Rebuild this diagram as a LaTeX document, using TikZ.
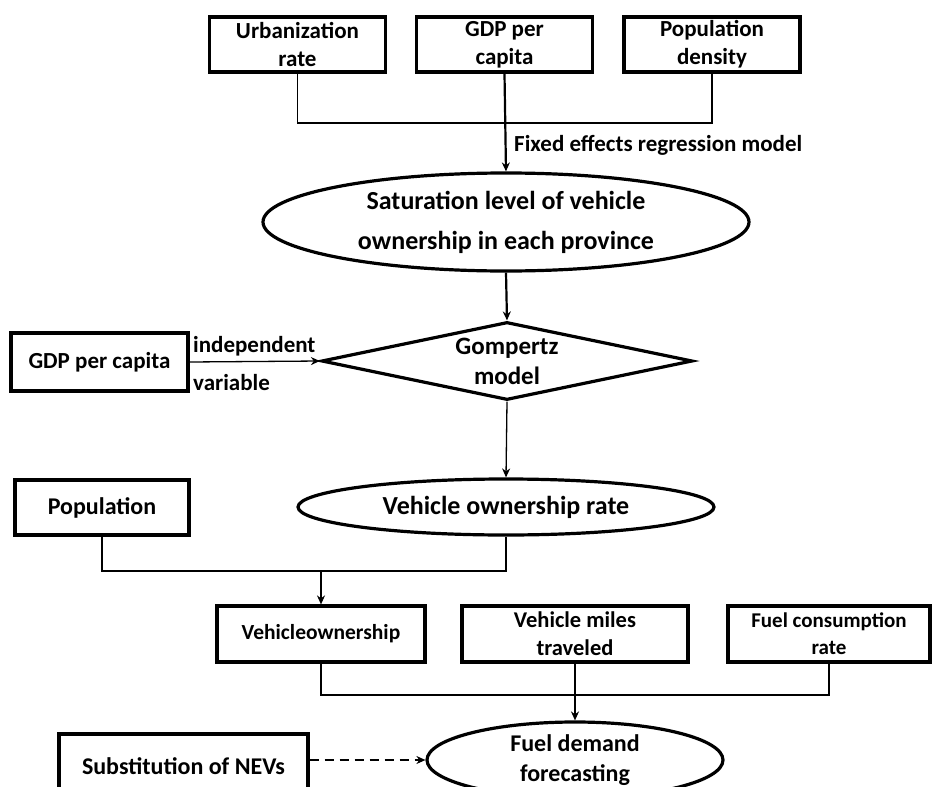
\documentclass[tikz,border=0pt]{standalone}
\usepackage{fontspec}
\setmainfont{Carlito}
\usetikzlibrary{shapes.geometric,arrows.meta}
\begin{document}
\begin{tikzpicture}[x=1pt,y=-1pt,
  txt/.style={font=\bfseries\fontsize{23}{28}\selectfont},
  box/.style={draw,line width=3.2pt,inner sep=0pt,align=center,txt},
  oval/.style={draw,ellipse,line width=3.2pt,inner sep=0pt,align=center,txt},
  conn/.style={line width=1.4pt},
  arr/.style={line width=1.6pt,-{Stealth[length=9pt,width=8pt]}},
  lbl/.style={inner sep=0pt,anchor=west,txt}]
\useasboundingbox (0,0) rectangle (932,787);
\clip (0,0) rectangle (932,787);

% top row
\node[box,minimum width=176pt,minimum height=55pt] (urb) at (297.5,44.5) {Urbanization\\rate};
\node[box,minimum width=176pt,minimum height=55pt] (gdpa) at (504.5,44.5) {GDP per\\capita};
\node[box,minimum width=176pt,minimum height=55pt] (popd) at (712,44.5) {Population\\density};

\node[oval,minimum width=486pt,minimum height=98pt,font=\bfseries\fontsize{26}{40}\selectfont] (sat) at (506,222) {Saturation level of vehicle\\ownership in each province};

\coordinate (j1) at (504.5,123);
\draw[conn] (urb.south) |- (j1) -| (popd.south);
\draw[arr,line width=2.2pt] (gdpa.south) -- (sat.north);
\node[lbl] (fe) at (514,145) {Fixed effects regression model};

% Gompertz
\node[draw,diamond,line width=3.2pt,inner sep=0pt,aspect=4.76,minimum width=371pt,minimum height=78pt,align=center,font=\bfseries\fontsize{25}{30}\selectfont] (gomp) at (507,361) {Gompertz\\model};
\draw[arr,line width=2.2pt] (sat.south) -- (gomp.north);

\node[box,minimum width=177pt,minimum height=58pt] (gdpb) at (99.5,362) {GDP per capita};
\draw[arr,line width=1.3pt] (gdpb.east) -- (gomp.west);
\node[lbl] (iv1) at (193,346) {independent};
\node[lbl] (iv2) at (193,383) {variable};

% Vehicle ownership rate
\node[oval,minimum width=416pt,minimum height=56pt,font=\bfseries\fontsize{26}{28}\selectfont] (vor) at (506,507) {Vehicle ownership rate};
\draw[arr,line width=1.3pt] (gomp.south) -- (vor.north);

\node[box,minimum width=174pt,minimum height=55pt,font=\bfseries\fontsize{24}{28}\selectfont] (popn) at (102,507.5) {Population};

\coordinate (j2) at (321,571);
\draw[conn,line width=2pt] (popn.south) |- (j2) -| (vor.south);

% third row
\node[box,minimum width=208pt,minimum height=56pt,font=\bfseries\fontsize{21.5}{26}\selectfont] (vown) at (321,634) {Vehicleownership};
\node[box,minimum width=226pt,minimum height=56pt,font=\bfseries\fontsize{22.5}{28}\selectfont] (vmt) at (575,634) {Vehicle miles\\traveled};
\node[box,minimum width=202pt,minimum height=56pt,font=\bfseries\fontsize{21}{27}\selectfont] (fcr) at (829,634) {Fuel consumption\\rate};
\draw[arr,line width=2.6pt] (j2) -- (vown.north);

\node[oval,minimum width=296pt,minimum height=76pt,font=\bfseries\fontsize{24}{30}\selectfont] (fuel) at (575,760) {Fuel demand\\forecasting};

\coordinate (j3) at (575,695);
\draw[conn,line width=1.1pt] (vown.south) |- (j3) -| (fcr.south);
\draw[arr,line width=1.8pt] (vmt.south) -- (fuel.north);

\node[box,minimum width=249pt,minimum height=72pt,font=\bfseries\fontsize{24}{28}\selectfont] (nev) at (183.5,770) {\raisebox{7pt}{Substitution of NEVs}};
\draw[arr,line width=1.1pt,dashed,dash pattern=on 9pt off 6pt] (nev.east |- fuel.west) -- (fuel.west);
\end{tikzpicture}
\end{document}
